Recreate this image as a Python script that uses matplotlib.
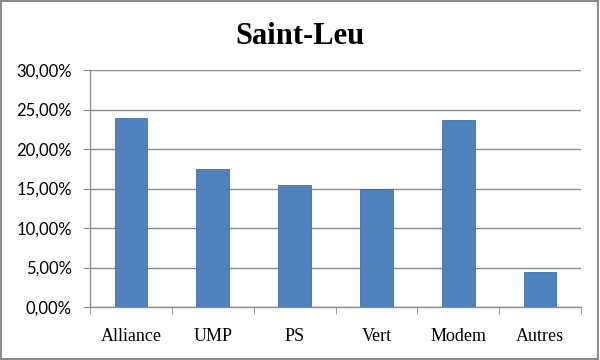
import matplotlib
matplotlib.use("Agg")
import matplotlib.pyplot as plt
from matplotlib.patches import Rectangle
import numpy as np

categories = ["Alliance", "UMP", "PS", "Vert", "Modem", "Autres"]
values = [23.9, 17.5, 15.5, 15.0, 23.7, 4.4]
yticks = [0, 5, 10, 15, 20, 25, 30]
ytick_labels = ["0,00%", "5,00%", "10,00%", "15,00%", "20,00%", "25,00%", "30,00%"]
title = "Saint-Leu"

fig = plt.figure(figsize=(6, 3.6), dpi=100)
ax = fig.add_axes([90/600, 1-307/360, (581-90)/600, (307-70)/360])

x = np.arange(len(categories))
ax.bar(x, values, width=0.4, color="#4F81BD", edgecolor="#3F6FA8", linewidth=0.6, zorder=3)

ax.set_xlim(-0.5, len(categories) - 0.5)
ax.set_ylim(0, 30)
ax.set_yticks(yticks)
ax.set_yticklabels(ytick_labels, fontfamily="Lato", fontsize=12)
ax.yaxis.grid(True, color="#8C8C8C", linewidth=1, zorder=0)
ax.set_xticks(x)
ax.set_xticklabels(categories, fontfamily="Liberation Serif", fontsize=13)
ax.set_xticks(np.arange(len(categories) + 1) - 0.5, minor=True)
ax.tick_params(axis="x", which="major", length=0, pad=15)
ax.tick_params(axis="x", which="minor", length=5, color="#8C8C8C", direction="out")
ax.tick_params(axis="y", length=5, color="#8C8C8C", direction="out", pad=8)

for s in ["top", "right"]:
    ax.spines[s].set_visible(False)
for s in ["left", "bottom"]:
    ax.spines[s].set_color("#8C8C8C")
    ax.spines[s].set_linewidth(1)

fig.text(0.5, 1 - 36/360, title, ha="center", va="center",
         fontfamily="Liberation Serif", fontweight="bold", fontsize=22)

fig.patches.append(Rectangle((0.002, 0.003), 0.995, 0.994, transform=fig.transFigure,
                             fill=False, edgecolor="#8C8C8C", linewidth=1.5))

fig.savefig("out.png", dpi=100)
